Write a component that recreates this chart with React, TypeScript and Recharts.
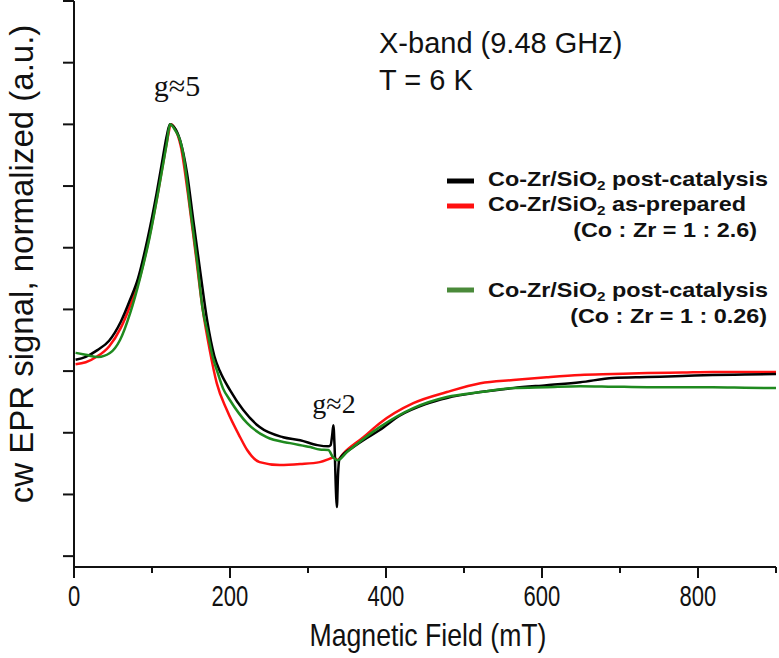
import React from "react";
import { LineChart, Line, XAxis, YAxis } from "recharts";

// field (mT) and normalized signal, one pair of arrays per sample
const fieldPost = [2, 15, 30, 45, 60, 72, 82, 94, 106, 114, 119, 123, 128, 136, 145, 153, 162, 171, 180, 187, 200, 217, 238, 268, 290, 312, 326, 329, 331, 332.5, 334, 336, 337, 338.5, 340, 343, 355, 371, 392, 418, 450, 478, 521, 563, 606, 649, 691, 735, 780, 819, 860, 900];
const signalPost = [0.046, 0.058, 0.085, 0.123, 0.2, 0.29, 0.375, 0.531, 0.722, 0.867, 0.955, 1.0, 0.99, 0.936, 0.8, 0.61, 0.4, 0.2, 0.06, 0.0, -0.077, -0.158, -0.227, -0.268, -0.28, -0.3, -0.305, -0.3, -0.26, -0.219, -0.3, -0.5, -0.551, -0.42, -0.36, -0.345, -0.315, -0.28, -0.239, -0.18, -0.135, -0.109, -0.085, -0.069, -0.057, -0.045, -0.028, -0.024, -0.02, -0.016, -0.014, -0.012];

const fieldPrepared = [2, 15, 30, 45, 60, 72, 84, 96, 108, 116, 121, 124, 129, 137, 146, 155, 165, 174, 183, 196, 213, 222, 238, 264, 290, 315, 328, 333, 338, 345, 371, 392, 435, 478, 521, 563, 606, 649, 691, 735, 780, 819, 860, 900];
const signalPrepared = [0.028, 0.036, 0.06, 0.1, 0.175, 0.265, 0.375, 0.535, 0.73, 0.875, 0.96, 1.0, 0.985, 0.91, 0.72, 0.5, 0.25, 0.085, -0.049, -0.158, -0.268, -0.32, -0.369, -0.381, -0.377, -0.369, -0.355, -0.349, -0.36, -0.335, -0.268, -0.211, -0.13, -0.085, -0.049, -0.036, -0.025, -0.016, -0.012, -0.008, -0.006, -0.004, -0.004, -0.004];

const fieldPost026 = [2, 15, 31, 46, 59, 72, 85, 97, 110, 119, 123, 128, 140, 149, 158, 165, 171, 178, 183, 191, 200, 222, 247, 277, 303, 315, 326, 332, 338, 350, 371, 392, 435, 478, 521, 563, 606, 649, 691, 735, 780, 819, 860, 900];
const signalPost026 = [0.074, 0.066, 0.057, 0.073, 0.126, 0.235, 0.381, 0.543, 0.762, 0.924, 1.0, 0.985, 0.88, 0.66, 0.44, 0.25, 0.16, 0.055, 0.005, -0.07, -0.118, -0.211, -0.268, -0.292, -0.308, -0.318, -0.32, -0.349, -0.361, -0.328, -0.275, -0.227, -0.15, -0.105, -0.085, -0.069, -0.065, -0.061, -0.063, -0.065, -0.065, -0.065, -0.067, -0.069];

const xTicks = [0, 100, 200, 300, 400, 500, 600, 700, 800, 900];
const xLabelTicks = [0, 200, 400, 600, 800];
const yTicks = [-0.75, -0.5, -0.25, 0, 0.25, 0.5, 0.75, 1, 1.25, 1.5];

const toPoints = (xs: number[], ys: number[]) => xs.map((x, i) => ({ field: x, signal: ys[i] }));

const dataPost = toPoints(fieldPost, signalPost);
const dataPrepared = toPoints(fieldPrepared, signalPrepared);
const dataPost026 = toPoints(fieldPost026, signalPost026);

const AXIS = "#111";
const SANS = "'Liberation Sans', Arial, sans-serif";
const SERIF = "'Liberation Serif', 'Times New Roman', serif";

function XTick(props: any) {
  const { x, y, payload } = props;
  const major = xLabelTicks.includes(payload.value);
  return (
    <g>
      <line x1={x} y1={y} x2={x} y2={y + (major ? 11 : 6)} stroke={AXIS} strokeWidth={2} />
      {major && (
        <text
          transform={`translate(${x},${y + 39}) scale(0.76,1)`}
          textAnchor="middle"
          fontSize={29}
          fontFamily={SANS}
          fill="#111"
        >
          {payload.value}
        </text>
      )}
    </g>
  );
}

function YTick(props: any) {
  const { x, y } = props;
  return <line x1={x - 11} y1={y} x2={x} y2={y} stroke={AXIS} strokeWidth={2} />;
}

// legend row with the SiO2 subscript, stretched a little like the original
function SampleName({ x, y, suffix }: { x: number; y: number; suffix: string }) {
  return (
    <text transform={`translate(${x},${y}) scale(1.17,1)`}>
      Co-Zr/SiO<tspan fontSize={13} dy={4}>2</tspan>
      <tspan dy={-4}>{" " + suffix}</tspan>
    </text>
  );
}

export default function App() {
  return (
    <div style={{ position: "absolute", left: 0, top: 0, width: 779, height: 658, background: "#fff" }}>
      <LineChart width={779} height={658} margin={{ top: 1, right: 3, left: 0, bottom: 0 }}>
        <XAxis
          dataKey="field"
          type="number"
          domain={[0, 900]}
          ticks={xTicks}
          interval={0}
          height={91}
          tickLine={false}
          tickSize={0}
          tickMargin={0}
          tick={<XTick />}
          axisLine={{ stroke: AXIS, strokeWidth: 2 }}
          allowDataOverflow
        />
        <YAxis
          type="number"
          domain={[-0.794, 1.5]}
          ticks={yTicks}
          interval={0}
          width={74}
          tickLine={false}
          tickSize={0}
          tickMargin={0}
          tick={<YTick />}
          axisLine={{ stroke: AXIS, strokeWidth: 2 }}
          allowDataOverflow
        />
        <Line data={dataPrepared} dataKey="signal" type="monotone" stroke="#ff1010" strokeWidth={2.5} dot={false} isAnimationActive={false} />
        <Line data={dataPost} dataKey="signal" type="monotone" stroke="#000" strokeWidth={2.5} dot={false} isAnimationActive={false} />
        <Line data={dataPost026} dataKey="signal" type="monotone" stroke="#1f8a1f" strokeWidth={2.5} dot={false} isAnimationActive={false} />
      </LineChart>

      <svg width={779} height={658} style={{ position: "absolute", left: 0, top: 0, pointerEvents: "none" }}>
        <text transform="translate(33,264) rotate(-90)" textAnchor="middle" fontSize={33} fontFamily={SANS} fill="#111">
          cw EPR signal, normalized (a.u.)
        </text>
        <text transform="translate(428,646) scale(0.86,1)" textAnchor="middle" fontSize={31} fontFamily={SANS} fill="#111">
          Magnetic Field (mT)
        </text>

        <text x={379} y={53} fontSize={29} fontFamily={SANS} fill="#111">X-band (9.48 GHz)</text>
        <text x={379} y={90} fontSize={29} fontFamily={SANS} fill="#111">T = 6 K</text>

        <text x={177} y={96} textAnchor="middle" fontSize={30} fontFamily={SERIF} fill="#111">g≈5</text>
        <text x={334} y={413} textAnchor="middle" fontSize={28} fontFamily={SERIF} fill="#111">g≈2</text>

        <g fontFamily={SANS} fontWeight="bold" fontSize={20} fill="#111">
          <line x1={447} y1={181} x2={474} y2={181} stroke="#000" strokeWidth={5} />
          <SampleName x={488} y={186} suffix="post-catalysis" />
          <line x1={447} y1={206} x2={474} y2={206} stroke="#ff1010" strokeWidth={5} />
          <SampleName x={488} y={211} suffix="as-prepared" />
          <text transform="translate(757,237) scale(1.17,1)" textAnchor="end">(Co : Zr = 1 : 2.6)</text>
          <line x1={447} y1={290} x2={474} y2={290} stroke="#4a8a3a" strokeWidth={5} />
          <SampleName x={488} y={297} suffix="post-catalysis" />
          <text transform="translate(767,323) scale(1.17,1)" textAnchor="end">(Co : Zr = 1 : 0.26)</text>
        </g>
      </svg>
    </div>
  );
}
